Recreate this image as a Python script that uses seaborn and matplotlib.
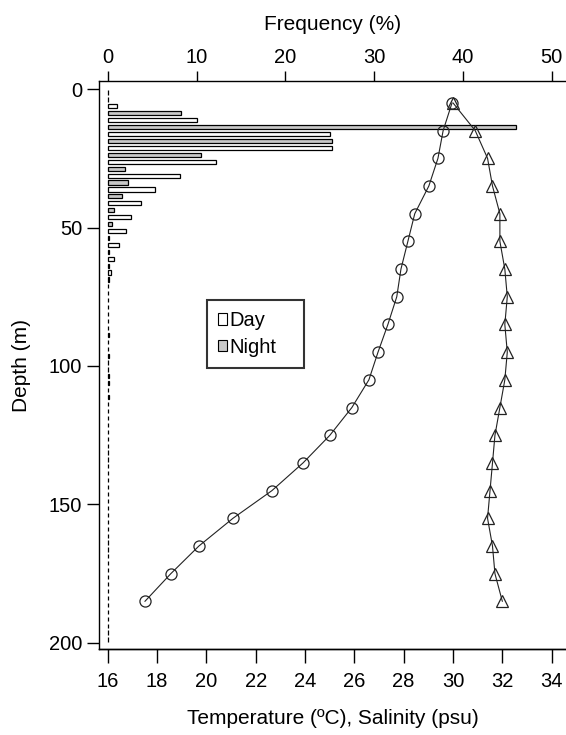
import numpy as np
import pandas as pd
import matplotlib
matplotlib.use("Agg")
import matplotlib.pyplot as plt
import seaborn as sns

# ---------------- data ----------------
bin_depth = [2.5, 7.5, 12.5, 17.5, 22.5, 27.5, 32.5, 37.5, 42.5, 47.5,
             52.5, 57.5, 62.5, 67.5, 72.5, 77.5, 82.5, 87.5, 92.5, 97.5,
             102.5, 107.5, 112.5, 117.5, 122.5, 127.5, 132.5, 137.5, 142.5, 147.5,
             152.5, 157.5, 162.5, 167.5, 172.5, 177.5, 182.5, 187.5, 192.5, 197.5]
day_freq = [0, 1.0, 10.1, 25.0, 25.3, 12.2, 8.1, 5.3, 3.8, 2.6,
            2.1, 1.3, 0.7, 0.35, 0, 0, 0, 0, 0, 0.1,
            0, 0.1, 0.1, 0, 0, 0, 0, 0, 0, 0,
            0, 0, 0, 0, 0, 0, 0, 0, 0, 0]
night_freq = [0, 8.25, 46.0, 25.3, 10.5, 2.0, 2.3, 1.6, 0.7, 0.45,
              0.2, 0.1, 0.1, 0.1, 0, 0, 0, 0.1, 0, 0,
              0.1, 0, 0, 0, 0, 0, 0, 0, 0, 0,
              0, 0, 0, 0, 0, 0, 0, 0, 0, 0]
period_labels = ["Day", "Night"]

prof_depth = [5, 15, 25, 35, 45, 55, 65, 75, 85, 95,
              105, 115, 125, 135, 145, 155, 165, 175, 185]
temperature = [29.96, 29.6, 29.39, 29.02, 28.45, 28.17, 27.89, 27.72, 27.36, 26.96,
               26.59, 25.9, 25.01, 23.92, 22.66, 21.08, 19.7, 18.56, 17.51]
salinity = [30.0, 30.9, 31.4, 31.6, 31.9, 31.9, 32.1, 32.2, 32.1, 32.2,
            32.1, 31.9, 31.7, 31.6, 31.5, 31.4, 31.6, 31.7, 32.0]

freq_ticks = [0, 10, 20, 30, 40, 50]
ts_ticks = [16, 18, 20, 22, 24, 26, 28, 30, 32, 34]
depth_ticks = [0, 50, 100, 150, 200]

bars = pd.DataFrame({
    "depth": bin_depth * 2,
    "freq": day_freq + night_freq,
    "period": [period_labels[0]] * len(bin_depth) + [period_labels[1]] * len(bin_depth),
})
prof = pd.DataFrame({"depth": prof_depth, "temp": temperature, "sal": salinity})

# ---------------- style ----------------
sns.set_theme(style="ticks")
plt.rcParams["font.family"] = ["Liberation Sans", "DejaVu Sans"]
plt.rcParams["axes.edgecolor"] = "black"
plt.rcParams["axes.linewidth"] = 1.0
plt.rcParams["xtick.color"] = "black"
plt.rcParams["ytick.color"] = "black"
plt.rcParams["text.color"] = "black"
plt.rcParams["axes.labelcolor"] = "black"
FS_TICK = 14.5
FS_LAB = 15

W, H = 566, 735
fig = plt.figure(figsize=(W / 100, H / 100), dpi=100)
left_px, right_px, top_px, bot_px = 99, 566, 81.3, 649.3
ax = fig.add_axes([left_px / W, 1 - bot_px / H, (right_px - left_px) / W, (bot_px - top_px) / H])

sns.barplot(data=bars, x="freq", y="depth", hue="period", hue_order=period_labels,
            palette={"Day": "white", "Night": "#C8C8C8"}, orient="y",
            native_scale=True, dodge=True, width=1.0, gap=0.4,
            edgecolor="black", linewidth=0.9, errorbar=None, ax=ax)

ax_t = ax.twiny()
line_kw = dict(color="#222222", linewidth=0.8, markerfacecolor="none",
               markeredgecolor="#222222", markeredgewidth=0.9, markersize=8)
sns.lineplot(data=prof, x="temp", y="depth", orient="y", marker="o", ax=ax_t, **line_kw)
sns.lineplot(data=prof, x="sal", y="depth", orient="y", marker="^", ax=ax_t, **line_kw)

# ---------------- axes ----------------
ax.set_xlim(-0.98, 51.6)
ax_t.set_xlim(15.65, 34.58)
ax.set_ylim(202.3, -2.8)

ax.xaxis.tick_top()
ax.xaxis.set_label_position("top")
ax.set_xticks(freq_ticks)
ax.set_xticklabels([str(t) for t in freq_ticks])
ax.set_yticks(depth_ticks)
ax.set_yticklabels([str(t) for t in depth_ticks])
ax.tick_params(axis="x", top=True, bottom=False, labeltop=True, labelbottom=False,
               direction="out", length=7.5, width=1, pad=3, labelsize=FS_TICK)
ax.tick_params(axis="y", left=True, direction="out", length=9, width=1, pad=3, labelsize=FS_TICK)
ax.set_xlabel("Frequency (%)", fontsize=FS_LAB, labelpad=13)
ax.set_ylabel("Depth (m)", fontsize=FS_LAB, labelpad=13)

ax_t.xaxis.tick_bottom()
ax_t.xaxis.set_label_position("bottom")
ax_t.set_xticks(ts_ticks)
ax_t.set_xticklabels([str(t) for t in ts_ticks])
ax_t.tick_params(axis="x", top=False, bottom=True, labeltop=False, labelbottom=True,
                 direction="out", length=10, width=1, pad=6, labelsize=FS_TICK)
ax_t.tick_params(axis="y", left=False, right=False, labelleft=False, labelright=False)
ax_t.set_xlabel("Temperature (\u00baC), Salinity (psu)", fontsize=FS_LAB, labelpad=13)
ax_t.set_ylabel("")

for a in (ax, ax_t):
    a.spines["right"].set_visible(False)
ax_t.spines["left"].set_visible(False)
ax_t.spines["top"].set_visible(False)

handles, labels = ax.get_legend_handles_labels()
leg = ax.legend(handles, labels, loc="upper left", mode="expand",
                bbox_to_anchor=(207.3 / W, 1 - 367.7 / H, (304.3 - 207.3) / W, (367.7 - 300) / H),
                bbox_transform=fig.transFigure,
                borderaxespad=0, frameon=True, fancybox=False, fontsize=FS_TICK,
                handlelength=0.42, handleheight=0.48, handletextpad=0.12,
                labelspacing=0.39, borderpad=0.55)
leg.get_frame().set_edgecolor("black")
leg.get_frame().set_linewidth(1.5)
for h in leg.legend_handles:
    h.set_edgecolor("black")
    h.set_linewidth(0.8)

fig.savefig("out.png", dpi=100)
